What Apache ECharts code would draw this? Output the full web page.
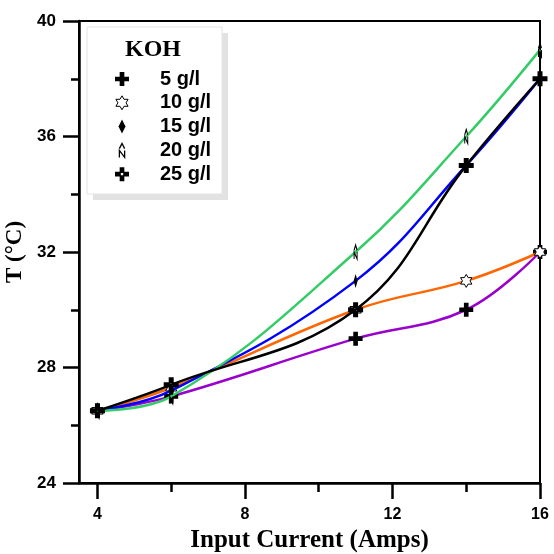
<!DOCTYPE html>
<html><head><meta charset="utf-8">
<script src="https://cdn.jsdelivr.net/npm/echarts@6/dist/echarts.min.js"></script>
<style>html,body{margin:0;padding:0;background:#fff}#c{width:554px;height:554px}</style>
</head><body><div id="c"></div>
<script>
const currents = [4, 6, 11, 14, 16];
const seriesNames = ['5 g/l', '10 g/l', '15 g/l', '20 g/l', '25 g/l'];
const t5 = [26.5, 27.0, 29.0, 30.0, 32.0];
const t10 = [26.5, 27.3, 30.0, 31.0, 32.0];
const t15 = [26.5, 27.2, 31.0, 35.0, 38.0];
const t20 = [26.5, 27.0, 32.0, 36.0, 39.0];
const t25 = [26.5, 27.4, 30.0, 35.0, 38.0];
const xMajorTicks = [4, 8, 12, 16];
const xMinorTicks = [6, 10, 14];
const legendTitle = 'KOH';

const colors = ['#9900CC', '#FF6600', '#0000FF', '#33CC66', '#000000'];
const values = [t5, t10, t15, t20, t25];
const SYM = {
  plus: 'path://M-2,-6H2V-2H6V2H2V6H-2V2H-6V-2H-2Z',
  star: 'path://M0,-100L29,-50L87,-50L58,0L87,50L29,50L0,100L-29,50L-87,50L-58,0L-87,-50L-29,-50Z',
  diamond: 'path://M0,-10L5,0L0,10L-5,0Z',
  narrow: 'path://M-3,8L-3,0L3,8L3,0M-3,-2L0,-8L3,-2',
  cross: 'path://M-2,-6H2V-2H6V2H2V6H-2V2H-6V-2H-2ZM-1,-1V1H1V-1Z'
};
const symDefs = [
  {symbol: SYM.plus, size: 14, style: {color: '#000'}},
  {symbol: SYM.star, size: 13, style: {color: '#fff', borderColor: '#000', borderWidth: 1}},
  {symbol: SYM.diamond, size: [8, 14], style: {color: '#000'}},
  {symbol: SYM.narrow, size: [8, 14], style: {color: 'rgba(0,0,0,0)', borderColor: '#000', borderWidth: 1.3}},
  {symbol: SYM.cross, size: 15, style: {color: '#000'}}
];

const series = seriesNames.map((name, i) => ({
  name: name,
  type: 'line',
  xAxisIndex: 0,
  smooth: 0.4,
  symbol: symDefs[i].symbol,
  symbolSize: symDefs[i].size,
  symbolKeepAspect: true,
  showAllSymbol: true,
  data: currents.map((x, j) => [x, values[i][j]]),
  lineStyle: {color: colors[i], width: 2.5},
  itemStyle: symDefs[i].style,
  z: 2 + i
}));

const chart = echarts.init(document.getElementById('c'), null, {renderer: 'canvas'});
chart.setOption({
  animation: false,
  backgroundColor: '#fff',
  grid: {left: 79, right: 14, top: 21, bottom: 71, outerBoundsMode: 'none', containLabel: false,
         show: true, borderColor: '#000', borderWidth: 2, backgroundColor: 'transparent'},
  xAxis: [{
    type: 'value', min: 3.5, max: 16,
    name: 'Input Current (Amps)', nameLocation: 'middle', nameGap: 45,
    nameTextStyle: {fontFamily: 'Liberation Serif', fontWeight: 'bold', fontSize: 25, color: '#000'},
    axisLine: {show: true, lineStyle: {color: '#000', width: 2.5}},
    axisTick: {show: true, length: 16, customValues: xMajorTicks, lineStyle: {color: '#000', width: 2.5}},
    axisLabel: {customValues: xMajorTicks, margin: 24, fontFamily: 'Liberation Sans', fontWeight: 'bold', fontSize: 16, color: '#000'},
    splitLine: {show: false}
  }, {
    type: 'value', min: 3.5, max: 16, position: 'bottom',
    axisLine: {show: false},
    axisTick: {show: true, length: 9, customValues: xMinorTicks, lineStyle: {color: '#000', width: 2.5}},
    axisLabel: {show: false},
    splitLine: {show: false}
  }],
  yAxis: {
    type: 'value', min: 24, max: 40, interval: 4,
    name: 'T (°C)', nameLocation: 'middle', nameGap: 40, nameRotate: 90,
    nameTextStyle: {fontFamily: 'Liberation Serif', fontWeight: 'bold', fontSize: 23, color: '#000'},
    axisLine: {show: true, lineStyle: {color: '#000', width: 2.5}},
    axisTick: {show: true, length: 16, lineStyle: {color: '#000', width: 2.5}},
    minorTick: {show: true, splitNumber: 2, length: 8, lineStyle: {color: '#000', width: 2.5}},
    axisLabel: {margin: 23, fontFamily: 'Liberation Sans', fontWeight: 'bold', fontSize: 17, color: '#000'},
    splitLine: {show: false}
  },
  legend: {
    orient: 'vertical', left: 115, top: 69, padding: 0,
    itemWidth: 14, itemHeight: 14, itemGap: 3.8,
    z: 20,
    data: seriesNames.map((n, i) => ({name: n, icon: symDefs[i].symbol, itemStyle: symDefs[i].style})),
    textStyle: {fontFamily: 'Liberation Sans', fontWeight: 'bold', fontSize: 20, color: '#000', padding: [0, 0, 0, 26]}
  },
  graphic: [
    {type: 'rect', z: 10, shape: {x: 93, y: 33, width: 135, height: 167}, style: {fill: '#e2e2e2'}},
    {type: 'rect', z: 11, shape: {x: 87, y: 27, width: 135, height: 167}, style: {fill: '#fff', stroke: '#e4e4e4', lineWidth: 1}},
    {type: 'text', z: 12, x: 153, y: 50, style: {text: legendTitle, fontFamily: 'Liberation Serif', fontWeight: 'bold', fontSize: 24, fill: '#000', align: 'center', verticalAlign: 'middle'}}
  ],
  series: series
});
</script></body></html>
